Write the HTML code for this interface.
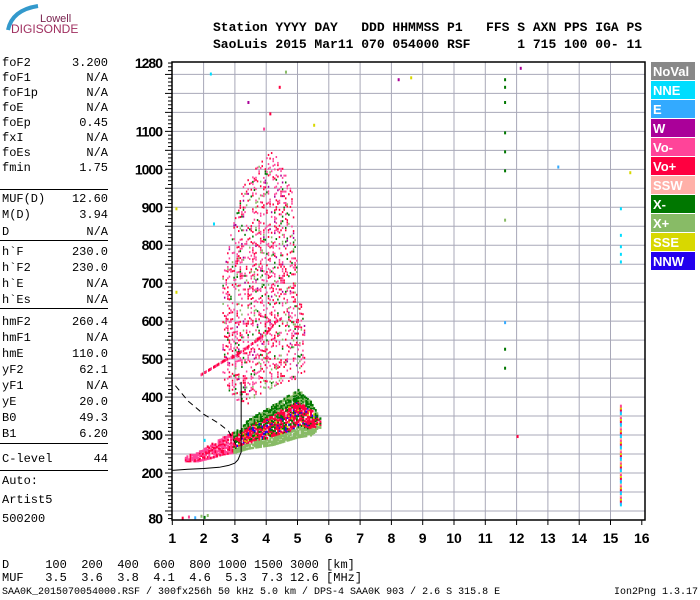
<!DOCTYPE html>
<html><head><meta charset="utf-8"><style>
body{margin:0;width:700px;height:600px;background:#fff;overflow:hidden;position:relative;font-family:"Liberation Mono",monospace}
.t{position:absolute;white-space:pre;color:#000}
.lp{position:absolute;left:2px;width:106px;font-size:12px;display:flex;justify-content:space-between;line-height:14px}
.sep{position:absolute;left:0;width:108px;height:1px;background:#000}
</style></head><body>
<svg id="chart" width="700" height="600" style="position:absolute;left:0;top:0">
<g>
<path d="M8 30 Q12 10 38 6" stroke="#3399cc" stroke-width="4" fill="none"/>
<text x="40" y="22" font-family="Liberation Sans" font-size="11" fill="#7a2450">Lowell</text>
<text x="11" y="33" font-family="Liberation Sans" font-size="12" fill="#a03060">DIGISONDE</text>
</g>
</svg>
<div class="t" style="left:213px;top:19px;font-size:13px;font-weight:bold;line-height:17px">Station YYYY DAY   DDD HHMMSS P1   FFS S AXN PPS IGA PS
SaoLuis 2015 Mar11 070 054000 RSF      1 715 100 00- 11</div>
<div id="lp"></div>
<div class="t" style="left:2px;top:559px;font-size:12px;line-height:13px">D     100  200  400  600  800 1000 1500 3000 [km]
MUF   3.5  3.6  3.8  4.1  4.6  5.3  7.3 12.6 [MHz]</div>
<div class="t" style="left:2px;top:587px;font-size:10px">SAA0K_2015070054000.RSF / 300fx256h 50 kHz 5.0 km / DPS-4 SAA0K 903 / 2.6 S 315.8 E</div>
<div class="t" style="left:614px;top:587px;font-size:10px">Ion2Png 1.3.17</div>
<script>
const params=[["foF2","3.200",63],["foF1","N/A",78],["foF1p","N/A",93],["foE","N/A",108],["foEp","0.45",123],["fxI","N/A",138],["foEs","N/A",153],["fmin","1.75",168],
["MUF(D)","12.60",199],["M(D)","3.94",215],["D","N/A",232],
["h`F","230.0",252],["h`F2","230.0",268],["h`E","N/A",284],["h`Es","N/A",300],
["hmF2","260.4",322],["hmF1","N/A",338],["hmE","110.0",354],["yF2","62.1",370],["yF1","N/A",386],["yE","20.0",402],["B0","49.3",418],["B1","6.20",434],
["C-level","44",459],["Auto:","",481],["Artist5","",500],["500200","",519]];
const seps=[189,240,308,443,470];
const xTicks=[1,2,3,4,5,6,7,8,9,10,11,12,13,14,15,16];
const yTicks=[80,200,300,400,500,600,700,800,900,1000,1100,1280];
const legendNames=["NoVal","NNE","E","W","Vo-","Vo+","SSW","X-","X+","SSE","NNW"];
const legendColors=["#888888","#00ddff","#33aaff","#aa0099","#ff4499","#ff0040","#ffb0a8","#007700","#88bb66","#d8d800","#2200ee"];
const sparseF=[2.6,2.8,3.0,3.2,3.4,3.6,3.8,4.0,4.2,4.4,4.6,4.8,5.0,5.2];
const sparseLo=[450,420,400,380,380,390,400,420,430,440,440,450,450,470];
const sparseHi=[720,820,880,950,980,1000,1020,1050,1050,1020,990,950,700,600];
const denseF=[1.4,1.8,2.2,2.6,3.0,3.4,3.8,4.2,4.6,5.0,5.4,5.7];
const denseLo=[232,232,240,250,255,265,270,275,285,295,300,320];
const denseHi=[245,255,275,295,310,340,360,380,400,420,390,345];
const obliqueF=[1.9,2.3,2.7,3.0,3.5,4.0,4.3,4.5];
const obliqueH=[460,480,500,510,540,570,600,610];
const profF=[1.0,1.5,2.0,2.5,2.8,3.0,3.1,3.2,3.2];
const profH=[207,210,212,215,220,226,235,255,440];
const dashF=[1.1,1.5,2.0,2.5,2.8,3.1];
const dashH=[430,390,355,330,310,265];
const isoF=[11.6,11.6,11.6,11.6,11.6,11.6,11.6,11.6,11.6,11.6,15.3,15.3,15.3,15.3,15.3,2.2,3.4,8.2,8.6,12.1,13.3,5.5,1.1,1.1,1.3,1.5,1.7,1.9,2.0,2.1,15.6,12.0,4.4,4.6,4.1,3.9,2.3,2.0];
const isoH=[1240,1220,1180,1100,1050,1000,870,600,530,480,900,830,800,780,760,1255,1180,1240,1245,1270,1010,1120,900,680,85,88,86,90,87,92,995,300,1220,1260,1150,1110,860,290];
const isoC=[7,7,7,7,7,7,8,2,7,7,1,1,1,1,1,1,3,3,9,3,2,9,9,9,5,4,2,8,7,8,9,5,5,8,5,4,1,1];
const stripeLo=[120],stripeHi=[380];

const X0=172.3,PX=31.3,Y200=473,PY=0.3796;
const xs=f=>X0+(f-1)*PX;
const ys=h=>Y200-(h-200)*PY;
const NS="http://www.w3.org/2000/svg";
const svg=document.getElementById('chart');
function mk(tag,at,parent){const e=document.createElementNS(NS,tag);for(const k in at)e.setAttribute(k,at[k]);(parent||svg).appendChild(e);return e;}
function interp(F,V,f){for(let i=0;i<F.length-1;i++){if(f>=F[i]&&f<=F[i+1]){return V[i]+(V[i+1]-V[i])*(f-F[i])/(F[i+1]-F[i]);}}return null;}
// deterministic texture hash (pattern only, not data)
function hs(i,j){let n=Math.imul(i,374761393)+Math.imul(j,668265263);n=Math.imul(n^(n>>>13),1274126177);return ((n^(n>>>16))>>>0)%100;}

const lp=document.getElementById('lp');
params.forEach(p=>{const d=document.createElement('div');d.className='lp';d.style.top=(p[2]-7)+'px';


d.innerHTML='<span>'+p[0]+'</span><span>'+p[1]+'</span>';lp.appendChild(d);});
seps.forEach(y=>{const d=document.createElement('div');d.className='sep';d.style.top=y+'px';


lp.appendChild(d);});

const grid=mk('g',{});


for(let f=2;f<=15;f++){mk('line',{x1:xs(f),x2:xs(f),y1:62,y2:520,stroke:'#a8a8b8','stroke-width':1},grid);}
for(let h=100;h<=1250;h+=50){mk('line',{x1:172,x2:645,y1:ys(h),y2:ys(h),stroke:'#a8a8b8','stroke-width':1},grid);}
const ax=mk('g',{});


for(let h=80;h<=1280;h+=10){const big=h%50===0;mk('line',{x1:big?165:168,x2:172,y1:ys(h),y2:ys(h),stroke:'#000'},ax);}
yTicks.forEach(h=>{const t=mk('text',{x:162,y:ys(h)+5,'text-anchor':'end','font-family':'Liberation Sans','font-weight':'bold','font-size':14,'letter-spacing':'-1'},ax);t.textContent=h;});
const xa=mk('g',{});


xTicks.forEach(f=>{mk('line',{x1:xs(f),x2:xs(f),y1:520,y2:525,stroke:'#000'},xa);const t=mk('text',{x:xs(f),y:543,'text-anchor':'middle','font-family':'Liberation Sans','font-weight':'bold','font-size':14},xa);t.textContent=f;});

const ech=mk('g',{});


const cols=legendColors;
let i=0;
for(let f=sparseF[0];f<=sparseF[sparseF.length-1];f+=0.05){i++;
 const lo=interp(sparseF,sparseLo,f),hi=interp(sparseF,sparseHi,f);if(lo===null)continue;
 let j=0;
 for(let h=lo;h<=hi;h+=6){j++;
  const r=hs(i,j);if(r>28)continue;
  const c=[4,5,4,7,5,8,4,5,4,3][r%10];
  mk('rect',{x:xs(f),y:ys(h),width:1.5,height:2,fill:cols[c]},ech);}
}
i=0;
for(let f=denseF[0];f<=denseF[denseF.length-1];f+=0.05){i++;
 const lo=interp(denseF,denseLo,f),hi=interp(denseF,denseHi,f);if(lo===null)continue;
 let j=0;
 for(let h=lo;h<=hi;h+=4){j++;
  const q=hs(i+500,j);if(q>75)continue;
  const r=(h-lo)/(hi-lo+1);let c;
  if(f<2.9)c=(q%3===1)?5:4;
  else if(r<0.2)c=8;
  else if(r>0.75)c=(q%3===1)?8:7;
  else c=(q%11===0)?10:(q%13===0?9:(q%4===0?7:5));
  mk('rect',{x:xs(f),y:ys(h)-1,width:2,height:2.5,fill:cols[c]},ech);}
}
i=0;
for(let f=obliqueF[0];f<=obliqueF[obliqueF.length-1];f+=0.04){i++;const h=interp(obliqueF,obliqueH,f);if(h===null)continue;
 if(hs(i,7)>70)continue;
 mk('rect',{x:xs(f),y:ys(h)-1,width:1.5,height:3,fill:cols[i%4===1?4:5]},ech);}
isoF.forEach((f,n)=>{mk('rect',{x:xs(f),y:ys(isoH[n]),width:2,height:3,fill:cols[isoC[n]]},ech);});
for(let h=stripeLo[0];h<=stripeHi[0];h+=5){mk('rect',{x:xs(15.3),y:ys(h),width:2,height:3,fill:cols[[1,2,5,9,4,6][Math.round(h/5)%6]]},ech);}
const pc=profF.map((f,n)=>xs(f)+','+ys(profH[n])).join(' ');
const pl=mk('polyline',{points:pc,fill:'none',stroke:'#000','stroke-width':1});


const dc=dashF.map((f,n)=>xs(f)+','+ys(dashH[n])).join(' ');
const dl=mk('polyline',{points:dc,fill:'none',stroke:'#000','stroke-width':1,'stroke-dasharray':'6,4'});


const fr=mk('rect',{x:172,y:62,width:473,height:458,fill:'none',stroke:'#000','stroke-width':1.5});


const lg=mk('g',{});


legendNames.forEach((n,k)=>{const g=mk('g',{},lg);
 
 
 mk('rect',{x:651,y:62+k*19,width:44,height:18,fill:cols[k]},g);
 const t=mk('text',{x:653,y:76+k*19,'font-family':'Liberation Sans','font-weight':'bold','font-size':13,fill:'#fff'},g);t.textContent=n;});
</script>
</body></html>
